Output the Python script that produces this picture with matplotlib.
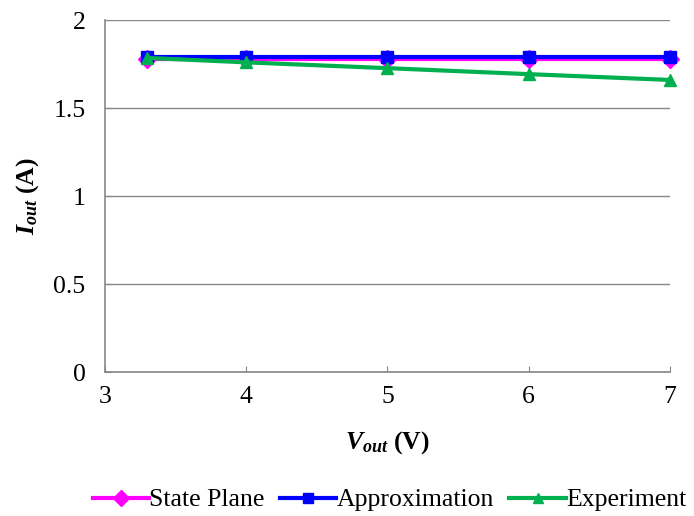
import matplotlib.pyplot as plt

plt.rcParams['font.family'] = ['Liberation Serif', 'DejaVu Serif']
plt.rcParams['mathtext.fontset'] = 'custom'
plt.rcParams['mathtext.rm'] = 'Liberation Serif:bold'
plt.rcParams['mathtext.it'] = 'Liberation Serif:italic:bold'
plt.rcParams['mathtext.bf'] = 'Liberation Serif:bold'

vout = [3.3, 4, 5, 6, 7]
state_plane = [1.78, 1.78, 1.78, 1.78, 1.78]
approximation = [1.79, 1.79, 1.79, 1.79, 1.79]
experiment = [1.785, 1.76, 1.727, 1.693, 1.66]

fig = plt.figure(figsize=(6.94, 5.16), dpi=100)
ax = fig.add_axes([0.1513, 0.279, 0.814, 0.682])

ax.plot(vout, state_plane, color="#FF00FF", lw=3, marker="D", ms=9, label="State Plane", clip_on=False)
ax.plot(vout, approximation, color="#0000FF", lw=3, marker="s", ms=8, label="Approximation", clip_on=False)
ax.plot(vout, experiment, color="#00B050", lw=3, marker="^", ms=9, label="Experiment", clip_on=False)

ax.set_xlim(3, 7)
ax.set_ylim(0, 2)
ax.set_xticks([3, 4, 5, 6, 7])
ax.set_yticks([0, 0.5, 1, 1.5, 2])
ax.set_yticklabels(["0", "0.5", "1", "1.5", "2"])
ax.grid(axis="y", color="#888888", lw=1)
ax.set_axisbelow(True)
for s in ["top", "right"]:
    ax.spines[s].set_visible(False)
for s in ["left", "bottom"]:
    ax.spines[s].set_color("#888888")
    ax.spines[s].set_linewidth(1.2)
ax.tick_params(labelsize=18.5, direction="in", length=4, color="#888888")
ax.tick_params(axis="y", pad=14)
ax.tick_params(axis="x", pad=10)

ax.set_xlabel(r"$V_{out}$ (V)", fontsize=18.5, fontweight="bold")
ax.set_ylabel(r"$I_{out}$ (A)", fontsize=18.5, fontweight="bold")
ax.xaxis.set_label_coords(0.5, -0.162)
ax.yaxis.set_label_coords(-0.113, 0.5)

ax.legend(loc="center", bbox_to_anchor=(0.561, 0.031), bbox_transform=fig.transFigure, ncol=3,
          frameon=False, fontsize=18.5, handlelength=2.2, handletextpad=0.0,
          columnspacing=0.6, markerscale=0.85, borderaxespad=0)

fig.savefig("out.png", dpi=100)
